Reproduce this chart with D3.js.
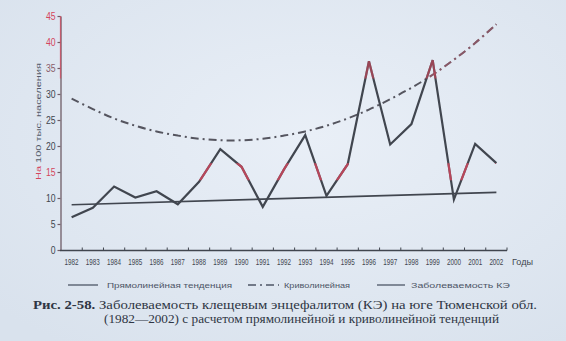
<!DOCTYPE html>
<html>
<head>
<meta charset="utf-8">
<script src="https://cdn.jsdelivr.net/npm/d3@7/dist/d3.min.js"></script>
<style>
  html, body { margin: 0; padding: 0; background: #e2e9f2; }
  svg { display: block; }
</style>
</head>
<body>
<svg id="chart" width="566" height="341"></svg>
<script>
// Tick-borne encephalitis incidence, south of Tyumen region, 1982–2002
const years = [1982, 1983, 1984, 1985, 1986, 1987, 1988, 1989, 1990, 1991, 1992,
               1993, 1994, 1995, 1996, 1997, 1998, 1999, 2000, 2001, 2002];
const incidence = [6.3, 8.1, 12.2, 10.1, 11.3, 8.8, 13.1, 19.4, 16.0, 8.3, 15.5,
                   22.1, 10.4, 16.5, 36.3, 20.3, 24.2, 36.5, 9.7, 20.4, 16.7];
const curveTrend = [29.1, 27.1, 25.3, 23.9, 22.8, 22.0, 21.4, 21.1, 21.1, 21.4, 22.0,
                    22.8, 23.9, 25.3, 27.0, 29.0, 31.2, 33.7, 36.6, 39.8, 43.4];
const lineTrendYears = [1982, 2002];
const lineTrend = [8.7, 11.1];
const yTicks = [0, 5, 10, 15, 20, 25, 30, 35, 40, 45];
const axisUnit = "Годы";
const yTitleLead = "На";
const yTitleRest = " 100 тыс. населения";
const legendItems = ["Прямолинейная тенденция", "Криволинейная", "Заболеваемость КЭ"];
const captionLines = [
  "Рис. 2-58. Заболеваемость клещевым энцефалитом (КЭ) на юге Тюменской обл.",
  "(1982—2002) с расчетом прямолинейной и криволинейной тенденций"
];

const svg = d3.select("#chart");
const W = 566, H = 341;
const ink = "#41464f";
const red = "#d4465c";

// paper tone
const defs = svg.append("defs");
const bg = defs.append("radialGradient").attr("id", "paper")
  .attr("cx", "55%").attr("cy", "40%").attr("r", "75%");
bg.append("stop").attr("offset", "0%").attr("stop-color", "#e9eff7");
bg.append("stop").attr("offset", "100%").attr("stop-color", "#d9e2ed");
svg.append("rect").attr("width", W).attr("height", H).attr("fill", "url(#paper)");

const x = d3.scaleBand().domain(years).range([61, 507]).padding(0);
const cx = d => x(d) + x.bandwidth() / 2;
const y = d3.scaleLinear().domain([0, 45]).range([250, 16]);

// bands where the print shows the red plate
defs.append("clipPath").attr("id", "midBand")
  .append("rect").attr("x", 0).attr("width", W)
  .attr("y", y(16.7)).attr("height", y(13.4) - y(16.7));
defs.append("clipPath").attr("id", "topBand")
  .append("rect").attr("x", 0).attr("width", W)
  .attr("y", 0).attr("height", y(33));

// y axis
const yAxis = svg.append("g").attr("transform", "translate(60.5,0)")
  .call(d3.axisLeft(y).tickValues(yTicks).tickSize(3).tickPadding(2).tickSizeOuter(0));
yAxis.select(".domain").attr("stroke", "#6f5c66").attr("stroke-width", 1.3);
yAxis.selectAll(".tick line").attr("stroke", "#6f5c66").attr("stroke-width", 1.2);
yAxis.selectAll(".tick text")
  .attr("font-family", "'Liberation Sans Narrow', 'Liberation Sans', sans-serif")
  .attr("font-size", 10)
  .attr("textLength", d => String(d).length * 4.8).attr("lengthAdjust", "spacingAndGlyphs")
  .attr("fill", d => (d >= 40 || d === 15) ? red : (d === 35 ? "#8a5d6a" : ink));

// x axis: labels centred on years, ticks on band edges
const xAxisY = 250.5;
svg.append("line").attr("x1", 60).attr("x2", 507).attr("y1", xAxisY).attr("y2", xAxisY)
  .attr("stroke", ink).attr("stroke-width", 1.4);
svg.append("g").selectAll("line").data(years.slice(1).concat([null])).join("line")
  .attr("x1", d => d === null ? 507 : x(d))
  .attr("x2", d => d === null ? 507 : x(d))
  .attr("y1", xAxisY).attr("y2", xAxisY - 3)
  .attr("stroke", ink).attr("stroke-width", 1);
svg.append("g").selectAll("text").data(years).join("text")
  .attr("x", d => cx(d)).attr("y", 265)
  .attr("text-anchor", "middle")
  .attr("font-family", "'Liberation Sans Narrow', 'Liberation Sans', sans-serif")
  .attr("font-size", 8.5)
  .attr("textLength", 14).attr("lengthAdjust", "spacingAndGlyphs")
  .attr("fill", ink)
  .text(d => d);
svg.append("text").attr("x", 512).attr("y", 265)
  .attr("font-family", "'Liberation Sans Narrow', 'Liberation Sans', sans-serif")
  .attr("font-size", 8.5).attr("textLength", 21).attr("lengthAdjust", "spacingAndGlyphs")
  .attr("fill", ink).text(axisUnit);

// y title
const yt = svg.append("text")
  .attr("transform", "translate(40.5,121.5) rotate(-90)")
  .attr("text-anchor", "middle")
  .attr("font-family", "'Liberation Sans Narrow', 'Liberation Sans', sans-serif")
  .attr("font-size", 7.5)
  .attr("textLength", 117).attr("lengthAdjust", "spacingAndGlyphs")
  .attr("fill", "#535a6a");
yt.append("tspan").attr("fill", red).text(yTitleLead);
yt.append("tspan").text(yTitleRest);

// lines
const lineFor = (xs, vs) => d3.line().x((d, i) => cx(xs[i])).y(d => y(d))(vs);
const curvePath = d3.line().x((d, i) => cx(years[i])).y(d => y(d)).curve(d3.curveCatmullRom)(curveTrend);
const incidencePath = lineFor(years, incidence);

const plot = svg.append("g");
plot.append("path").attr("d", lineFor(lineTrendYears, lineTrend))
  .attr("fill", "none").attr("stroke", ink).attr("stroke-width", 1.7);
plot.append("path").attr("d", curvePath)
  .attr("fill", "none").attr("stroke", "#55555f").attr("stroke-width", 2)
  .attr("stroke-dasharray", "8,4,2,4");
plot.append("path").attr("d", incidencePath)
  .attr("fill", "none").attr("stroke", ink).attr("stroke-width", 2.2)
  .attr("stroke-linejoin", "miter");

// red plate overlay
const midOver = svg.append("g").attr("clip-path", "url(#midBand)").attr("opacity", 0.8);
midOver.append("path").attr("d", incidencePath)
  .attr("fill", "none").attr("stroke", red).attr("stroke-width", 2.2);
const topOver = svg.append("g").attr("clip-path", "url(#topBand)");
topOver.append("line").attr("x1", 60.5).attr("x2", 60.5).attr("y1", y(45)).attr("y2", y(0))
  .attr("stroke", red).attr("stroke-width", 1.3).attr("opacity", 0.7);
topOver.append("path").attr("d", curvePath)
  .attr("fill", "none").attr("stroke", "#b35a6c").attr("stroke-width", 2)
  .attr("stroke-dasharray", "8,4,2,4").attr("opacity", 0.55);
topOver.append("path").attr("d", incidencePath)
  .attr("fill", "none").attr("stroke", red).attr("stroke-width", 2.2).attr("opacity", 0.6);

// legend
const lg = svg.append("g").attr("font-family", "'Liberation Sans Narrow', 'Liberation Sans', sans-serif")
  .attr("font-size", 7.5).attr("fill", "#4d5566");
const legendPos = [
  { x1: 68, x2: 98, tx: 107, tl: 125, dash: null },
  { x1: 248, x2: 279, tx: 284, tl: 66, dash: "8,4,2,4" },
  { x1: 377, x2: 405, tx: 411, tl: 99, dash: null }
];
legendItems.forEach((t, i) => {
  const p = legendPos[i];
  lg.append("line").attr("x1", p.x1).attr("x2", p.x2).attr("y1", 285).attr("y2", 285)
    .attr("stroke", "#4d5566").attr("stroke-width", 1.3)
    .attr("stroke-dasharray", p.dash);
  lg.append("text").attr("x", p.tx).attr("y", 287.5)
    .attr("textLength", p.tl).attr("lengthAdjust", "spacingAndGlyphs").text(t);
});

// caption
const cap = svg.append("g").attr("font-family", "'Liberation Serif', 'Times New Roman', serif")
  .attr("font-size", 12).attr("fill", "#2f3644");
const c1 = cap.append("text").attr("x", 33).attr("y", 309)
  .attr("textLength", 504).attr("lengthAdjust", "spacingAndGlyphs");
c1.append("tspan").attr("font-weight", "bold").text(captionLines[0].slice(0, 10));
c1.append("tspan").text(captionLines[0].slice(10));
cap.append("text").attr("x", 104).attr("y", 323)
  .attr("textLength", 395).attr("lengthAdjust", "spacingAndGlyphs")
  .text(captionLines[1]);
</script>
</body>
</html>
